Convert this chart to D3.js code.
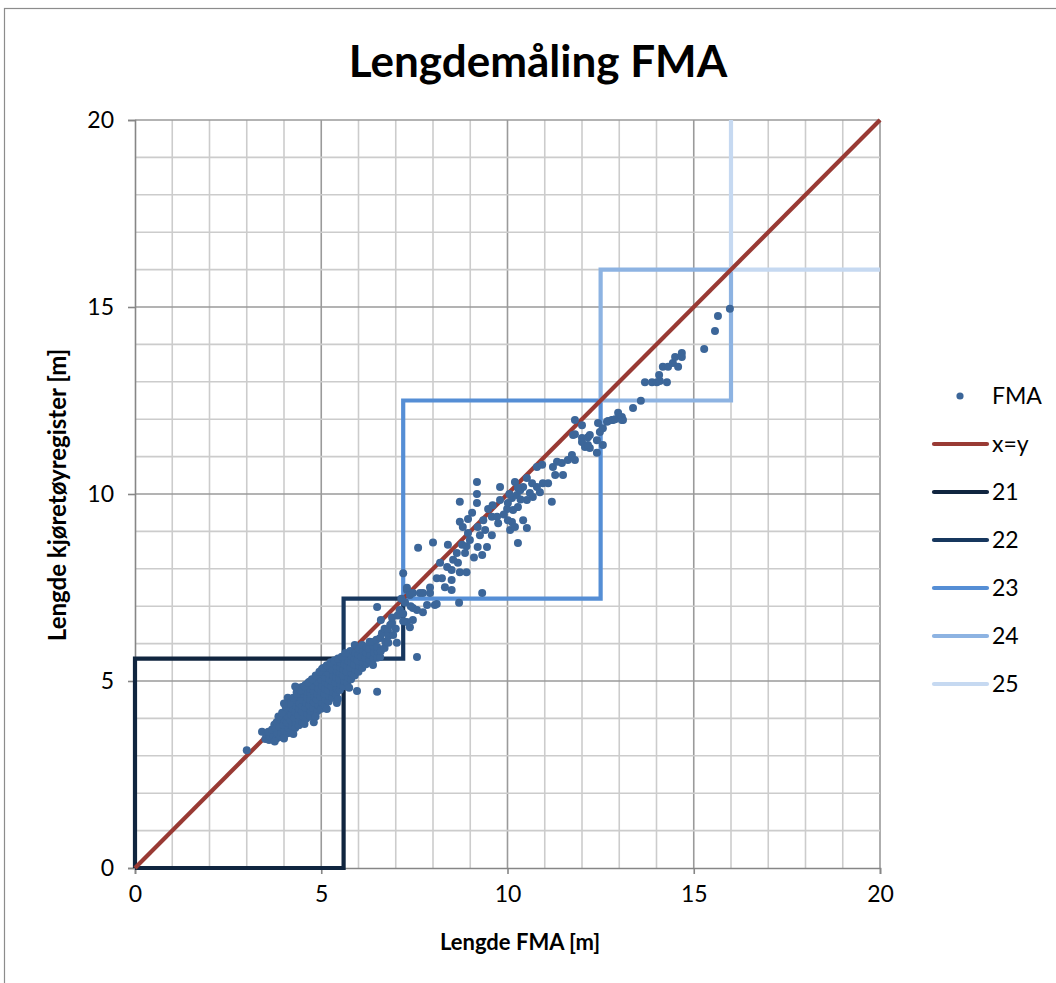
<!DOCTYPE html>
<html>
<head>
<meta charset="utf-8">
<script src="https://cdn.jsdelivr.net/npm/d3@7"></script>
<style>
  html, body { margin: 0; padding: 0; background: #fff; }
  svg { display: block; font-family: Lato, "Open Sans", "DejaVu Sans", sans-serif; }
</style>
</head>
<body>
<svg id="chart" width="1056" height="983"></svg>
<script>
// ---------- data ----------
const chartTitle = "Lengdemåling FMA";
const xAxisTitle = "Lengde FMA [m]";
const yAxisTitle = "Lengde kjøretøyregister [m]";
const axisTicks = [0, 5, 10, 15, 20];

// FMA measurements: [length FMA, length vehicle register]
const fmaPoints = [
  [3.0,3.15],[3.41,3.64],[4.1,4.55],[4.8,3.9],[5.42,4.41],[5.96,4.73],
  [3.5,3.45],[3.52,3.58],
  [3.6,3.42],[3.62,3.52],[3.58,3.64],
  [3.7,3.44],[3.72,3.55],[3.68,3.7],[3.74,3.83],
  [3.8,3.46],[3.82,3.6],[3.78,3.74],[3.8,3.9],
  [3.9,3.5],[3.92,3.63],[3.88,3.78],[3.9,3.96],
  [4.0,3.54],[4.02,3.68],[3.98,3.83],[4.0,3.98],[4.03,4.12],
  [4.1,3.6],[4.12,3.75],[4.08,3.9],[4.1,4.05],[4.12,4.22],
  [4.2,3.66],[4.22,3.8],[4.18,3.95],[4.2,4.1],[4.22,4.26],[4.2,4.44],
  [4.3,3.74],[4.32,3.88],[4.28,4.02],[4.3,4.18],[4.32,4.33],[4.3,4.5],[4.34,4.7],
  [4.4,3.82],[4.42,3.96],[4.38,4.1],[4.4,4.25],[4.42,4.4],[4.4,4.58],[4.38,4.82],
  [4.5,3.9],[4.52,4.05],[4.48,4.18],[4.5,4.33],[4.52,4.48],[4.5,4.65],[4.48,4.84],
  [4.6,4.0],[4.62,4.13],[4.58,4.28],[4.6,4.42],[4.62,4.56],[4.6,4.72],[4.58,4.9],
  [4.7,4.06],[4.72,4.2],[4.68,4.35],[4.7,4.5],[4.72,4.65],[4.7,4.8],[4.68,4.98],
  [4.82,4.13],[4.78,4.28],[4.8,4.43],[4.82,4.58],[4.8,4.73],[4.78,4.88],[4.82,5.05],
  [4.9,4.2],[4.92,4.35],[4.88,4.5],[4.9,4.65],[4.92,4.8],[4.9,4.96],[4.88,5.12],
  [5.0,4.26],[5.02,4.42],[4.98,4.58],[5.0,4.72],[5.02,4.88],[5.0,5.03],[4.98,5.2],[5.02,5.32],
  [5.1,4.35],[5.12,4.5],[5.08,4.65],[5.1,4.8],[5.12,4.95],[5.1,5.1],[5.08,5.26],
  [5.2,4.45],[5.22,4.6],[5.18,4.75],[5.2,4.9],[5.22,5.05],[5.2,5.2],[5.18,5.36],
  [5.3,4.55],[5.32,4.7],[5.28,4.85],[5.3,5.0],[5.32,5.15],[5.3,5.3],[5.28,5.46],
  [5.4,4.63],[5.42,4.8],[5.38,4.95],[5.4,5.1],[5.42,5.25],[5.4,5.4],[5.38,5.52],
  [5.5,4.76],[5.52,4.9],[5.48,5.05],[5.5,5.2],[5.52,5.35],[5.5,5.5],
  [5.6,4.86],[5.62,5.0],[5.58,5.15],[5.6,5.3],[5.62,5.45],[5.6,5.6],
  [5.7,4.95],[5.72,5.1],[5.68,5.25],[5.7,5.4],[5.72,5.55],[5.7,5.72],
  [5.8,5.05],[5.82,5.2],[5.78,5.35],[5.8,5.5],[5.82,5.65],[5.78,5.8],
  [5.9,5.15],[5.92,5.3],[5.88,5.45],[5.9,5.6],[5.92,5.75],[5.9,5.96],
  [6.0,5.25],[6.02,5.4],[5.98,5.55],[6.0,5.7],[6.02,5.86],
  [6.1,5.35],[6.12,5.5],[6.08,5.65],[6.12,5.8],[6.1,5.96],
  [6.2,5.45],[6.23,5.5],[6.18,5.62],[6.2,5.76],[6.22,5.9],
  [6.3,5.55],[6.32,5.7],[6.28,5.86],[6.3,6.05],
  [6.39,5.43],[6.4,5.6],[6.42,5.76],[6.4,5.92],[6.38,6.04],
  [6.5,5.62],[6.52,5.78],[6.5,5.91],[6.48,6.1],[6.5,6.98],
  [6.58,5.64],[6.6,5.8],[6.58,6.15],[6.63,6.28],[6.6,6.63],
  [6.7,5.88],[6.72,6.05],[6.7,6.4],
  [6.79,6.36],[6.85,6.5],[6.8,6.2],[6.8,6.02],
  [6.9,6.55],[6.93,6.23],[6.9,6.7],
  [7.03,6.02],[7.0,6.4],[7.05,6.75],[7.11,6.9],[6.5,4.71],
  [3.85,4.05],[3.95,4.15],[4.05,4.3],[4.15,4.4],[4.25,4.55],[4.35,4.65],[4.45,4.75],[4.55,4.85],
  [4.65,4.95],[4.75,5.05],[4.85,5.15],[4.95,5.25],[5.05,5.35],[5.15,5.42],[5.25,5.5],[5.35,5.55],
  [5.45,5.6],[5.55,5.65],[5.65,5.75],[4.0,4.4],[4.3,4.85],
  [3.75,3.38],[4.0,3.46],[4.25,3.58],[4.55,3.85],[4.85,4.05],[5.15,4.25],[5.45,4.52],[5.75,4.82],
  [7.3,6.58],[7.46,6.63],[7.38,6.44],[7.2,6.6],[7.3,7.43],[7.38,7.3],[7.46,7.35],[7.3,7.49],
  [7.57,6.9],[7.46,6.95],[7.57,5.64],[7.2,7.88],[7.25,7.1],[7.4,7.0],[7.15,7.2],[7.2,6.8],
  [7.65,7.35],[7.73,7.35],[7.84,7.03],[7.92,7.35],[8.05,7.03],[7.73,6.84],[7.6,8.56],[8.0,8.7],
  [8.4,8.64],[8.72,9.79],[9.18,10.32],[9.18,10.0],[9.18,9.76],[9.48,9.6],[8.94,9.33],[8.72,9.26],
  [8.8,9.12],[9.2,9.12],[8.94,8.96],[8.99,8.77],[9.26,8.9],[9.4,9.04],[9.58,9.39],[9.72,9.39],
  [9.75,9.22],[9.58,8.9],[9.45,8.58],[9.2,8.58],[9.32,8.37],[8.78,8.64],[8.86,8.42],[8.64,8.42],
  [8.54,8.24],[8.38,8.05],[8.5,7.97],[8.19,8.16],[8.24,7.75],[8.1,7.75],[8.5,7.7],[8.32,7.51],
  [8.5,7.43],[8.72,7.91],[8.9,7.91],[8.67,8.16],[9.32,7.35],[8.7,7.09],[8.1,7.06],[7.92,7.5],
  [9.8,9.84],[9.99,9.6],[9.8,10.19],[10.2,10.32],[10.01,9.76],[10.12,9.89],[10.25,9.97],[10.34,10.1],
  [10.42,10.19],[10.52,9.84],[10.6,10.03],[10.68,9.92],[10.79,10.19],[10.87,10.05],[10.95,10.29],[10.52,10.43],
  [10.28,10.16],[10.66,10.29],[10.15,9.57],[10.28,9.65],[10.42,9.3],[10.12,9.25],[10.07,9.04],[10.2,9.12],
  [10.52,9.09],[10.28,8.69],[10.01,9.3],[11.19,9.79],[11.09,10.29],[10.79,10.72],[10.93,10.78],[11.22,10.72],
  [11.28,10.51],[11.49,10.51],[11.33,10.86],[11.46,10.83],[11.62,10.91],[11.73,11.04],[11.81,10.91],
  [9.9,9.45],[10.35,9.85],[10.05,10.0],[9.6,9.7],[9.05,9.5],[9.35,9.3],[8.9,8.6],[9.1,8.3],
  [11.76,11.58],[12.0,11.5],[12.0,11.39],[12.16,11.52],[12.08,11.26],[12.21,11.23],[12.4,11.44],[12.56,11.31],
  [12.4,11.1],[12.43,11.9],[12.48,11.66],[12.67,11.93],[12.8,11.98],[11.81,11.98],[12.0,11.84],[11.81,11.6],
  [12.16,11.31],[12.21,11.58],[12.56,11.76],[12.7,11.95],[12.83,11.98],[12.97,12.17],[13.07,11.98],
  [12.89,12.0],[13.07,12.06],[13.1,11.98],[13.37,12.3],[13.58,12.49],[13.69,12.99],[13.88,12.99],
  [14.01,12.99],[14.09,13.02],[14.28,12.99],[14.07,13.18],[14.17,13.4],[14.31,13.4],[14.44,13.5],
  [14.58,13.4],[14.5,13.66],[14.68,13.77],[14.68,13.66],[15.28,13.88],[15.57,14.36],[15.65,14.76],[15.97,14.95]
];

// reference line x = y
const identityLine = [[0, 0], [20, 20]];

// length class limits
const classNames  = ["21", "22", "23", "24", "25"];
const classPaths  = [
  [[0,0],[0,5.6],[5.6,5.6],[5.6,0],[0,0]],
  [[5.6,5.6],[5.6,7.2],[7.2,7.2],[7.2,5.6],[5.6,5.6]],
  [[7.2,7.2],[7.2,12.5],[12.5,12.5],[12.5,7.2],[7.2,7.2]],
  [[12.5,12.5],[12.5,16],[16,16],[16,12.5],[12.5,12.5]],
  [[16,20],[16,16],[20,16]]
];
const classColors = ["#10253f", "#17375e", "#558ed5", "#8db3e2", "#c6d9f1"];
const pointColor = "#3c6699";
const lineColor = "#993a34";

// ---------- drawing ----------
const svg = d3.select("#chart");
const x = d3.scaleLinear().domain([0, 20]).range([135, 880]);
const y = d3.scaleLinear().domain([0, 20]).range([868, 120]);

// outer chart border
svg.append("rect").attr("x", 4.5).attr("y", 8.5).attr("width", 1060).attr("height", 1000)
  .attr("fill", "#fff").attr("stroke", "#8c8c8c").attr("stroke-width", 1.2);

// title
svg.append("text").attr("x", 538).attr("y", 77).attr("text-anchor", "middle")
  .attr("font-size", 44).attr("font-weight", "bold").text(chartTitle);

// grid
const gridVals = d3.range(1, 21);
const grid = svg.append("g");
grid.selectAll("line.vx").data(gridVals).join("line")
  .attr("x1", d => x(d)).attr("x2", d => x(d)).attr("y1", y(0)).attr("y2", y(20))
  .attr("stroke", d => d % 5 === 0 ? "#9a9a9a" : "#cccccc").attr("stroke-width", 1.6);
grid.selectAll("line.hy").data(gridVals).join("line")
  .attr("y1", d => y(d)).attr("y2", d => y(d)).attr("x1", x(0)).attr("x2", x(20))
  .attr("stroke", d => d % 5 === 0 ? "#9a9a9a" : "#cccccc").attr("stroke-width", 1.6);

// axes
const xAxis = d3.axisBottom(x).tickValues(axisTicks).tickSize(6).tickPadding(12).tickFormat(d3.format("d"));
const yAxis = d3.axisLeft(y).tickValues(axisTicks).tickSize(7).tickPadding(14).tickFormat(d3.format("d"));
const gx = svg.append("g").attr("transform", `translate(0,${y(0)})`).call(xAxis);
const gy = svg.append("g").attr("transform", `translate(${x(0)},0)`).call(yAxis);
[gx, gy].forEach(g => {
  g.select(".domain").attr("stroke", "#868686").attr("stroke-width", 1.6);
  g.selectAll(".tick line").attr("stroke", "#868686").attr("stroke-width", 1.6);
  g.selectAll(".tick text").attr("font-size", 23).attr("fill", "#000")
    .attr("font-family", "Lato, 'Open Sans', sans-serif");
});

// axis titles
svg.append("text").attr("x", 520).attr("y", 950).attr("text-anchor", "middle")
  .attr("font-size", 22).attr("font-weight", "bold").text(xAxisTitle);
svg.append("text").attr("transform", "translate(66,495) rotate(-90)").attr("text-anchor", "middle")
  .attr("font-size", 24).attr("font-weight", "bold").text(yAxisTitle);

const lineGen = d3.line().x(d => x(d[0])).y(d => y(d[1]));

// class boxes
svg.append("g").selectAll("path").data(classPaths).join("path")
  .attr("d", d => lineGen(d)).attr("fill", "none")
  .attr("stroke", (d, i) => classColors[i]).attr("stroke-width", 4.2)
  .attr("stroke-linejoin", "miter");

// x=y line
svg.append("path").attr("d", lineGen(identityLine)).attr("fill", "none")
  .attr("stroke", lineColor).attr("stroke-width", 4.2);

// points
svg.append("g").selectAll("circle").data(fmaPoints).join("circle")
  .attr("cx", d => x(d[0])).attr("cy", d => y(d[1])).attr("r", 4)
  .attr("fill", pointColor);

// legend
const legendItems = [{name: "FMA", type: "dot", color: pointColor},
  {name: "x=y", type: "line", color: lineColor}]
  .concat(classNames.map((n, i) => ({name: n, type: "line", color: classColors[i]})));
const lg = svg.append("g");
legendItems.forEach((it, i) => {
  const cy = 396 + i * 48;
  if (it.type === "dot") {
    lg.append("circle").attr("cx", 960).attr("cy", cy).attr("r", 3.6).attr("fill", it.color);
  } else {
    lg.append("line").attr("x1", 934).attr("x2", 987).attr("y1", cy).attr("y2", cy)
      .attr("stroke", it.color).attr("stroke-width", 4.2).attr("stroke-linecap", "round");
  }
  lg.append("text").attr("x", 992).attr("y", cy + 8).attr("font-size", 23).text(it.name);
});
</script>
</body>
</html>
